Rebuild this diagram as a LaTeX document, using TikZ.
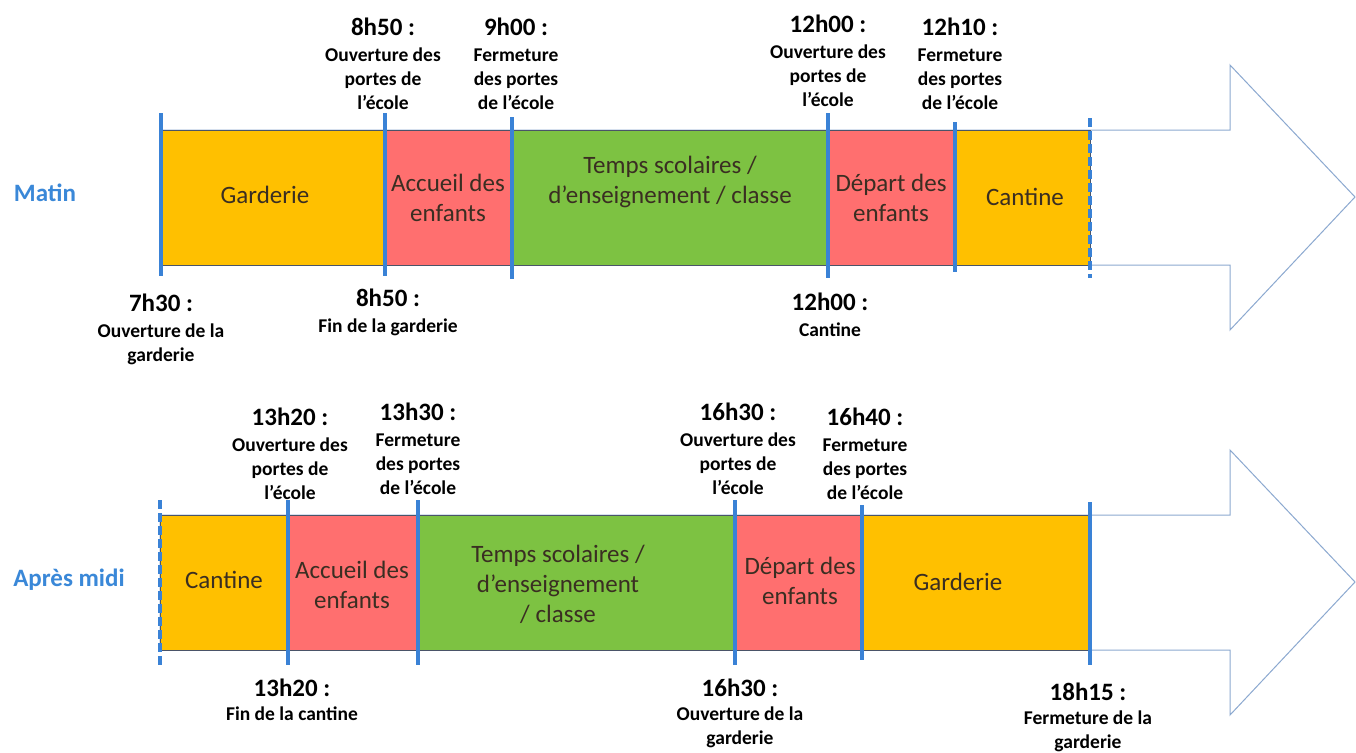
\documentclass[tikz,border=0pt]{standalone}
\usepackage{fontspec}
\setmainfont{Carlito}
\definecolor{orng}{HTML}{FFC000}
\definecolor{rouge}{HTML}{FF6F6F}
\definecolor{vert}{HTML}{7DC242}
\definecolor{barc}{HTML}{3A82D6}
\definecolor{outl}{HTML}{8CA9D0}
\definecolor{edgec}{HTML}{4A5468}
\definecolor{txtc}{HTML}{3A2E22}
\definecolor{lblue}{HTML}{3A88D8}
\begin{document}
\begin{tikzpicture}[x=1pt,y=-1pt,
  blk/.style={draw=edgec,line width=0.8pt,inner sep=0pt,outer sep=0pt,anchor=north west},
  btxt/.style={text=txtc,align=center,font=\fontsize{25}{30}\selectfont,inner sep=0pt},
  tlab/.style={align=center,anchor=north,inner sep=0pt,font=\fontsize{19.5}{24}\selectfont\bfseries},
  bar/.style={draw=barc,line width=4pt},
  dbar/.style={draw=barc,line width=4pt,dash pattern=on 9pt off 4pt},
  arrowout/.style={draw=outl,line width=1pt,line join=miter},
  side/.style={text=lblue,font=\fontsize{25}{28}\selectfont\bfseries}
]
\newcommand{\tm}[1]{{\fontsize{25}{28}\selectfont #1}\\[1.5pt]}
\newcommand{\tmb}[1]{{\fontsize{25}{28}\selectfont #1}\\[0pt]}
\useasboundingbox (0,0) rectangle (1356,752);
\fill[white] (0,0) rectangle (1356,752);

% arrows
\draw[arrowout] (160,130) -- (1230,130) -- (1230,65) -- (1355,197) -- (1230,330) -- (1230,265) -- (160,265) -- cycle;
\draw[arrowout] (160,515) -- (1230,515) -- (1230,450) -- (1355,582) -- (1230,715) -- (1230,650) -- (160,650) -- cycle;

% top blocks
\node[blk,fill=orng,minimum width=225pt,minimum height=135pt] (g1) at (160,130) {};
\node[blk,fill=rouge,minimum width=127pt,minimum height=135pt] (a1) at (385,130) {};
\node[blk,fill=vert,minimum width=316pt,minimum height=135pt] (t1) at (512,130) {};
\node[blk,fill=rouge,minimum width=127pt,minimum height=135pt] (d1) at (828,130) {};
\node[blk,fill=orng,minimum width=135pt,minimum height=135pt] (c1) at (955,130) {};

% bottom blocks
\node[blk,fill=orng,minimum width=128pt,minimum height=135pt] (c2) at (160,515) {};
\node[blk,fill=rouge,minimum width=130pt,minimum height=135pt] (a2) at (288,515) {};
\node[blk,fill=vert,minimum width=317pt,minimum height=135pt] (t2) at (418,515) {};
\node[blk,fill=rouge,minimum width=127pt,minimum height=135pt] (d2) at (735,515) {};
\node[blk,fill=orng,minimum width=228pt,minimum height=135pt] (g2) at (862,515) {};

% block texts
\node[btxt] (g1t) at (265,195) {Garderie};
\node[btxt] (a1t) at (448,198) {Accueil des\\enfants};
\node[btxt] (t1t) at (670,182) {Temps scolaires /\\d’enseignement / classe};
\node[btxt] (d1t) at (891,198) {Départ des\\enfants};
\node[btxt] (c1t) at (1025,197) {Cantine};
\node[btxt] (c2t) at (224,580) {Cantine};
\node[btxt] (a2t) at (352,585) {Accueil des\\enfants};
\node[btxt] (t2t) at (558,584) {Temps scolaires /\\d’enseignement\\/ classe};
\node[btxt] (d2t) at (800,581) {Départ des\\enfants};
\node[btxt] (g2t) at (958,582) {Garderie};

% bars top
\draw[bar] (161,113) -- (161,276);
\draw[bar] (385,113) -- (385,276);
\draw[bar] (512,117) -- (512,279);
\draw[bar] (828,113) -- (828,278);
\draw[bar] (955,122) -- (955,272);
\draw[dbar] (1090,118) -- (1090,278);
% bars bottom
\draw[dbar] (160,500) -- (160,665);
\draw[bar] (288,500) -- (288,665);
\draw[bar] (418,500) -- (418,665);
\draw[bar] (735,500) -- (735,665);
\draw[bar] (862,505) -- (862,660);
\draw[bar] (1090,502) -- (1090,665);

% side labels
\node[side] (matin) at (45,193) {Matin};
\node[side] (apres) at (69,580) {Après midi};

% top labels
\node[tlab] (l1) at (383,18) {\tm{8h50 :}Ouverture des\\portes de\\l’école};
\node[tlab] (l2) at (516,18) {\tm{9h00 :}Fermeture\\des portes\\de l’école};
\node[tlab] (l3) at (828,15) {\tm{12h00 :}Ouverture des\\portes de\\l’école};
\node[tlab] (l4) at (960,18) {\tm{12h10 :}Fermeture\\des portes\\de l’école};
\node[tlab] (l5) at (161,294) {\tm{7h30 :}Ouverture de la\\garderie};
\node[tlab] (l6) at (388,289) {\tm{8h50 :}Fin de la garderie};
\node[tlab] (l7) at (830,293) {\tm{12h00 :}Cantine};

% bottom labels
\node[tlab] (m1) at (290,408) {\tm{13h20 :}Ouverture des\\portes de\\l’école};
\node[tlab] (m2) at (418,403) {\tm{13h30 :}Fermeture\\des portes\\de l’école};
\node[tlab] (m3) at (738,403) {\tm{16h30 :}Ouverture des\\portes de\\l’école};
\node[tlab] (m4) at (865,408) {\tm{16h40 :}Fermeture\\des portes\\de l’école};
\node[tlab] (m5) at (292,679) {\tmb{13h20 :}Fin de la cantine};
\node[tlab] (m6) at (740,679) {\tmb{16h30 :}Ouverture de la\\garderie};
\node[tlab] (m7) at (1088,683) {\tmb{18h15 :}Fermeture de la\\garderie};
\end{tikzpicture}
\end{document}
